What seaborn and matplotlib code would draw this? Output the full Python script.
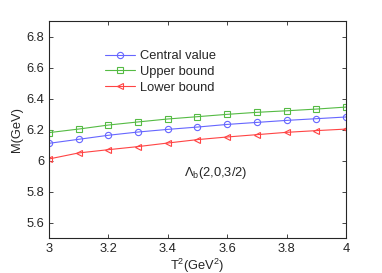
import matplotlib
matplotlib.use("Agg")
import matplotlib.pyplot as plt
import numpy as np
import pandas as pd
import seaborn as sns

# Borel parameter T^2 (GeV^2)
t2 = [3.0, 3.1, 3.2, 3.3, 3.4, 3.5, 3.6, 3.7, 3.8, 3.9, 4.0]

# masses M (GeV)
central = [6.111, 6.137, 6.163, 6.184, 6.201, 6.216, 6.233, 6.246, 6.259, 6.270, 6.281]
upper = [6.180, 6.203, 6.229, 6.249, 6.268, 6.283, 6.298, 6.311, 6.321, 6.332, 6.345]
lower = [6.010, 6.049, 6.070, 6.090, 6.113, 6.135, 6.152, 6.167, 6.182, 6.193, 6.203]

labels = ["Central value", "Upper bound", "Lower bound"]
colors = ["#6666ff", "#55bb44", "#ff4444"]
markers = ["o", "s", "<"]

rows = []
for lab, vals in zip(labels, [central, upper, lower]):
    for x, y in zip(t2, vals):
        rows.append([x, y, lab])
df = pd.DataFrame(rows, columns=["T2", "M", "curve"])

sns.set_style("ticks")
plt.rcParams["font.family"] = ["Liberation Sans", "DejaVu Sans"]
plt.rcParams["mathtext.fontset"] = "custom"
plt.rcParams["mathtext.rm"] = "Liberation Sans"
plt.rcParams["mathtext.it"] = "Liberation Sans"

fs = 9.3
fig = plt.figure(figsize=(3.82, 2.73), dpi=100)
ax = fig.add_axes([0.128, 0.128, 0.778, 0.795])

sns.lineplot(data=df, x="T2", y="M", hue="curve", style="curve",
             palette=colors, markers=markers, dashes=False,
             markersize=4.5, markerfacecolor="none", markeredgewidth=0.8,
             linewidth=0.8, ax=ax)
for line, c in zip(ax.lines, colors):
    line.set_markeredgecolor(c)

ax.set_xlim(3, 4)
ax.set_ylim(5.5, 6.9)
ax.set_xticks([3, 3.2, 3.4, 3.6, 3.8, 4])
ax.set_xticklabels(["3", "3.2", "3.4", "3.6", "3.8", "4"])
ax.set_yticks([5.6, 5.8, 6.0, 6.2, 6.4, 6.6, 6.8])
ax.set_yticklabels(["5.6", "5.8", "6", "6.2", "6.4", "6.6", "6.8"])
ax.tick_params(direction="in", top=True, right=True, labelsize=fs,
               length=3, width=0.6)
for s in ax.spines.values():
    s.set_linewidth(0.8)

ax.set_xlabel(r"T$^2$(GeV$^2$)", fontsize=fs, labelpad=1)
ax.set_ylabel("M(GeV)", fontsize=fs, labelpad=2)

leg = ax.legend(loc="upper left", bbox_to_anchor=(0.15, 0.92), frameon=False,
                fontsize=fs, handlelength=2.3, handletextpad=0.4,
                labelspacing=0.3)
for h, c in zip(leg.legend_handles, colors):
    h.set_markeredgecolor(c)
    h.set_markerfacecolor("none")

ax.text(3.455, 5.92, r"$\Lambda_{\rm b}$(2,0,3/2)", fontsize=fs, va="center")

fig.savefig("out.png", dpi=100)
